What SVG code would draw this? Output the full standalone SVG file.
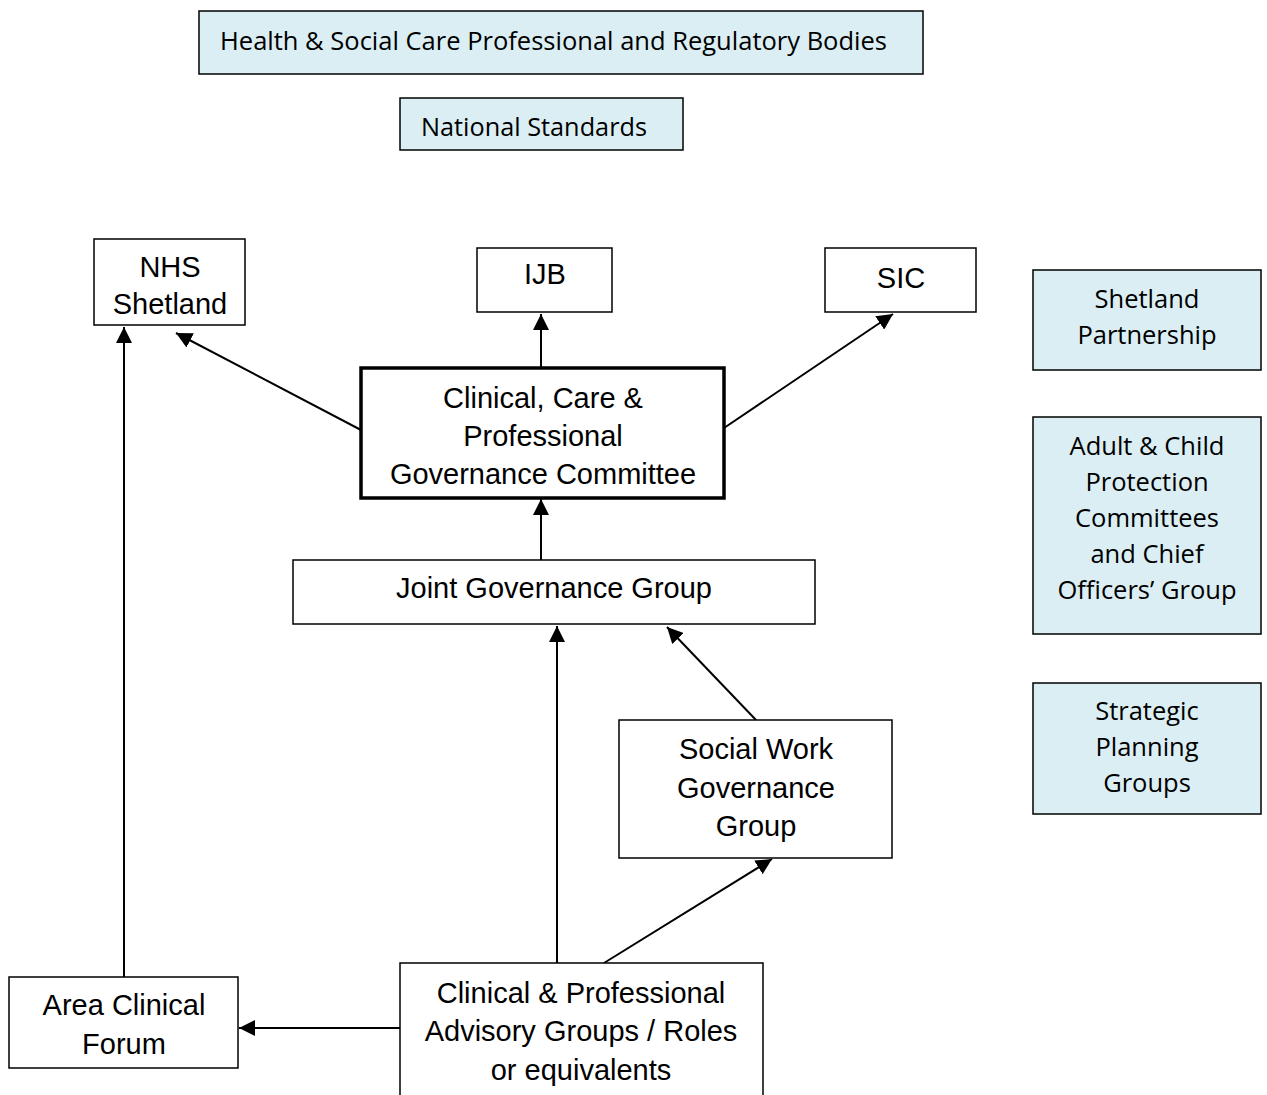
<svg xmlns="http://www.w3.org/2000/svg" width="1267" height="1095" viewBox="0 0 1267 1095">
<style>
.blue{fill:#DBEEF3;stroke:#000;stroke-width:1.5}
.box{fill:#fff;stroke:#000;stroke-width:1.5}
.thick{fill:#fff;stroke:#000;stroke-width:3.5}
.cal{font-family:"Open Sans",Lato,sans-serif;font-size:25.5px;fill:#000}
.ar{font-family:"Liberation Sans",Arial,sans-serif;font-size:29px;fill:#000}
.c{text-anchor:middle}
.conn{stroke:#000;stroke-width:2;fill:none;marker-end:url(#ah)}
</style>
<defs>
<marker id="ah" viewBox="0 0 10 10" refX="10" refY="5" markerWidth="8" markerHeight="8" markerUnits="strokeWidth" orient="auto">
<path d="M0,0 L10,5 L0,10 z" fill="#000"/>
</marker>
</defs>
<rect width="1267" height="1095" fill="#fff"/>
<g id="connectors">
<line class="conn" x1="124" y1="977" x2="124" y2="327"/>
<line class="conn" x1="361" y1="430" x2="176" y2="333"/>
<line class="conn" x1="541" y1="368" x2="541" y2="314"/>
<line class="conn" x1="724" y1="428" x2="893" y2="314"/>
<line class="conn" x1="541" y1="560" x2="541" y2="499"/>
<line class="conn" x1="557" y1="963" x2="557" y2="626"/>
<line class="conn" x1="756" y1="720" x2="667" y2="627"/>
<line class="conn" x1="604" y1="963" x2="772" y2="859"/>
<line class="conn" x1="400" y1="1028" x2="239" y2="1028"/>
</g>
<g id="hscp">
<rect class="blue" x="199" y="11" width="724" height="63"/>
<text class="cal" x="220" y="50" font-size="24" textLength="667" lengthAdjust="spacingAndGlyphs">Health &amp; Social Care Professional and Regulatory Bodies</text>
</g>
<g id="natstd">
<rect class="blue" x="400" y="98" width="283" height="52"/>
<text class="cal" x="421" y="136" font-size="24" textLength="226" lengthAdjust="spacingAndGlyphs">National Standards</text>
</g>
<g id="nhs">
<rect class="box" x="94" y="239" width="151" height="86"/>
<text class="ar c" x="170" y="277" font-size="27">NHS</text>
<text class="ar c" x="170" y="314" font-size="22">Shetland</text>
</g>
<g id="ijb">
<rect class="box" x="477" y="248" width="135" height="64"/>
<text class="ar c" x="545" y="284" font-size="28">IJB</text>
</g>
<g id="sic">
<rect class="box" x="825" y="248" width="151" height="64"/>
<text class="ar c" x="901" y="288" font-size="34">SIC</text>
</g>
<g id="shetpart">
<rect class="blue" x="1033" y="270" width="228" height="100"/>
<text class="cal c" x="1147" y="308">Shetland</text>
<text class="cal c" x="1147" y="344">Partnership</text>
</g>
<g id="protect">
<rect class="blue" x="1033" y="417" width="228" height="217"/>
<text class="cal c" x="1147" y="455">Adult &amp; Child</text>
<text class="cal c" x="1147" y="491">Protection</text>
<text class="cal c" x="1147" y="527">Committees</text>
<text class="cal c" x="1147" y="563">and Chief</text>
<text class="cal c" x="1147" y="599">Officers’ Group</text>
</g>
<g id="strategic">
<rect class="blue" x="1033" y="683" width="228" height="131"/>
<text class="cal c" x="1147" y="720">Strategic</text>
<text class="cal c" x="1147" y="756">Planning</text>
<text class="cal c" x="1147" y="792">Groups</text>
</g>
<g id="ccpgc">
<rect class="thick" x="361" y="368" width="363" height="130"/>
<text class="ar c" x="543" y="408">Clinical, Care &amp;</text>
<text class="ar c" x="543" y="446">Professional</text>
<text class="ar c" x="543" y="484">Governance Committee</text>
</g>
<g id="jgg">
<rect class="box" x="293" y="560" width="522" height="64"/>
<text class="ar c" x="554" y="598">Joint Governance Group</text>
</g>
<g id="swgg">
<rect class="box" x="619" y="720" width="273" height="138"/>
<text class="ar c" x="756" y="759">Social Work</text>
<text class="ar c" x="756" y="798">Governance</text>
<text class="ar c" x="756" y="836">Group</text>
</g>
<g id="acf">
<rect class="box" x="9" y="977" width="229" height="91"/>
<text class="ar c" x="124" y="1015">Area Clinical</text>
<text class="ar c" x="124" y="1054">Forum</text>
</g>
<g id="cpag">
<rect class="box" x="400" y="963" width="363" height="140"/>
<text class="ar c" x="581" y="1003">Clinical &amp; Professional</text>
<text class="ar c" x="581" y="1041">Advisory Groups / Roles</text>
<text class="ar c" x="581" y="1080">or equivalents</text>
</g>
</svg>
